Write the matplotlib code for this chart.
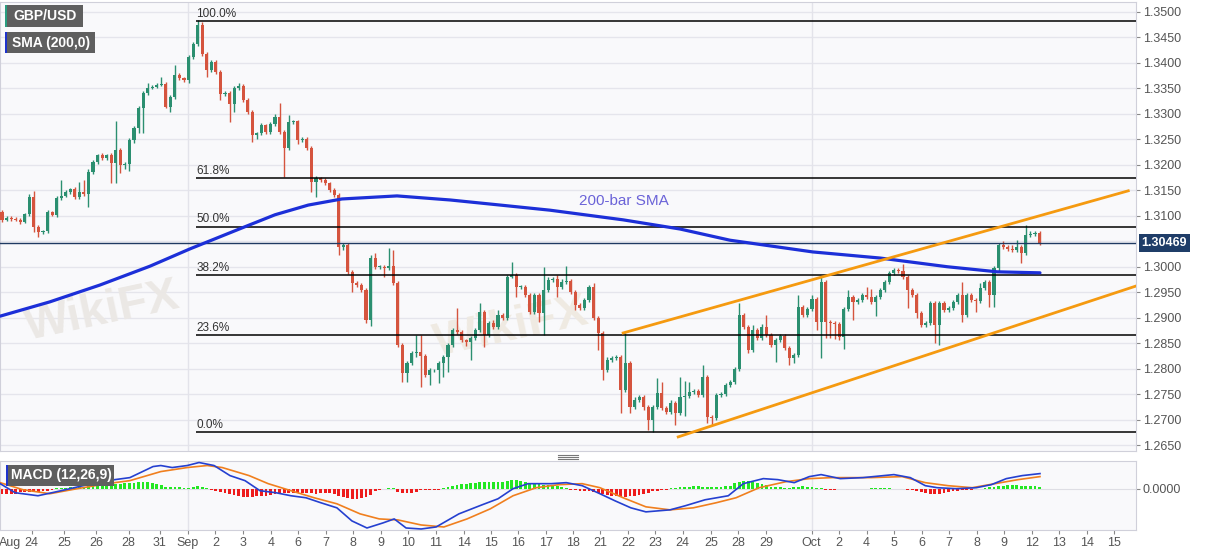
import numpy as np
import matplotlib.pyplot as plt
from matplotlib.patches import Rectangle
from matplotlib.lines import Line2D

plt.rcParams['font.family'] = ['Liberation Sans', 'DejaVu Sans']

# 4h candles GBP/USD, Aug 24 - Oct 12
first_open = 1.3107
closes = [
    1.3092, 1.3096, 1.3094, 1.3092, 1.3088, 1.3103, 1.3137, 1.3078, 1.3068, 1.3070,
    1.3107, 1.3102, 1.3135, 1.3139, 1.3147, 1.3153, 1.3137, 1.3147, 1.3143, 1.3186,
    1.3206, 1.3219, 1.3213, 1.3219, 1.3204, 1.3229, 1.3200, 1.3202, 1.3249, 1.3272,
    1.3312, 1.3341, 1.3351, 1.3353, 1.3357, 1.3359, 1.3314, 1.3333, 1.3376, 1.3370,
    1.3367, 1.3412, 1.3437, 1.3474, 1.3418, 1.3386, 1.3402, 1.3382, 1.3339, 1.3341,
    1.3319, 1.3351, 1.3355, 1.3327, 1.3304, 1.3259, 1.3262, 1.3278, 1.3264, 1.3280,
    1.3294, 1.3264, 1.3233, 1.3284, 1.3286, 1.3249, 1.3251, 1.3233, 1.3166, 1.3174,
    1.3170, 1.3164, 1.3151, 1.3141, 1.3039, 1.3043, 1.2990, 1.2968, 1.2964, 1.2954,
    1.2895, 1.3017, 1.3000, 1.3000, 1.2997, 1.3001, 1.2968, 1.2846, 1.2791, 1.2811,
    1.2831, 1.2833, 1.2825, 1.2787, 1.2797, 1.2797, 1.2811, 1.2823, 1.2846, 1.2876,
    1.2872, 1.2856, 1.2852, 1.2860, 1.2876, 1.2911, 1.2866, 1.2889, 1.2882, 1.2905,
    1.2899, 1.2980, 1.2984, 1.2960, 1.2960, 1.2944, 1.2911, 1.2944, 1.2909, 1.2954,
    1.2974, 1.2976, 1.2960, 1.2970, 1.2972, 1.2950, 1.2925, 1.2919, 1.2935, 1.2960,
    1.2899, 1.2870, 1.2797, 1.2817, 1.2821, 1.2823, 1.2758, 1.2811, 1.2725, 1.2738,
    1.2744, 1.2725, 1.2699, 1.2725, 1.2752, 1.2723, 1.2715, 1.2732, 1.2713, 1.2744,
    1.2746, 1.2754, 1.2756, 1.2748, 1.2784, 1.2705, 1.2703, 1.2748, 1.2750, 1.2768,
    1.2774, 1.2799, 1.2905, 1.2882, 1.2837, 1.2876, 1.2860, 1.2882, 1.2866, 1.2846,
    1.2856, 1.2864, 1.2840, 1.2821, 1.2827, 1.2921, 1.2905, 1.2917, 1.2937, 1.2891,
    1.2970, 1.2891, 1.2889, 1.2887, 1.2862, 1.2917, 1.2941, 1.2931, 1.2935, 1.2944,
    1.2941, 1.2931, 1.2941, 1.2954, 1.2970, 1.2988, 1.2994, 1.2992, 1.2980, 1.2954,
    1.2944, 1.2909, 1.2886, 1.2889, 1.2929, 1.2886, 1.2929, 1.2915, 1.2919, 1.2931,
    1.2944, 1.2905, 1.2944, 1.2935, 1.2933, 1.2958, 1.2970, 1.2944, 1.2997, 1.3043,
    1.3039, 1.3035, 1.3033, 1.3039, 1.3027, 1.3062, 1.3064, 1.3066, 1.30469,
]
# wick lengths above / below the body, in pips
upper_wick = [
    4, 3, 3, 3, 4, 3, 6, 12, 4, 3,
    4, 3, 4, 31, 4, 2, 4, 20, 24, 5,
    4, 3, 4, 3, 4, 57, 4, 3, 3, 4,
    4, 3, 10, 4, 3, 14, 3, 4, 20, 4,
    3, 4, 4, 10, 6, 4, 3, 4, 4, 4,
    4, 4, 6, 3, 4, 4, 3, 4, 3, 4,
    6, 27, 4, 14, 2, 2, 4, 4, 4, 4,
    3, 4, 3, 4, 4, 4, 4, 3, 3, 4,
    4, 6, 10, 4, 3, 36, 32, 4, 4, 4,
    4, 33, 33, 4, 4, 3, 4, 4, 4, 4,
    43, 4, 3, 4, 4, 18, 4, 4, 6, 10,
    4, 4, 25, 4, 4, 4, 4, 4, 4, 46,
    6, 4, 8, 6, 29, 4, 4, 4, 4, 4,
    8, 4, 4, 6, 4, 4, 4, 59, 4, 6,
    4, 4, 4, 4, 30, 22, 4, 6, 4, 40,
    30, 20, 4, 4, 23, 4, 4, 4, 4, 4,
    4, 4, 24, 4, 4, 10, 4, 6, 24, 4,
    4, 4, 4, 4, 4, 24, 4, 4, 8, 4,
    10, 4, 4, 4, 4, 4, 14, 4, 4, 4,
    16, 16, 4, 4, 4, 4, 4, 4, 13, 4,
    4, 4, 4, 4, 4, 4, 4, 4, 4, 4,
    4, 26, 4, 4, 4, 10, 4, 4, 4, 4,
    8, 4, 8, 14, 4, 20, 6, 5, 5,
]
lower_wick = [
    4, 3, 4, 3, 4, 3, 4, 10, 10, 4,
    4, 3, 4, 4, 3, 4, 4, 4, 4, 25,
    4, 4, 3, 4, 39, 39, 16, 8, 14, 6,
    10, 49, 4, 3, 3, 3, 2, 10, 4, 4,
    4, 6, 4, 4, 4, 14, 4, 4, 12, 4,
    35, 16, 4, 4, 4, 14, 8, 4, 4, 4,
    4, 4, 57, 4, 4, 8, 4, 4, 20, 30,
    4, 4, 4, 4, 16, 6, 4, 18, 4, 4,
    6, 12, 4, 4, 18, 4, 4, 4, 17, 18,
    4, 8, 61, 4, 20, 4, 26, 28, 30, 4,
    4, 4, 8, 36, 4, 4, 24, 4, 4, 4,
    4, 4, 2, 20, 4, 4, 4, 4, 18, 43,
    4, 4, 20, 4, 4, 4, 10, 4, 4, 4,
    4, 33, 20, 4, 4, 4, 45, 4, 12, 4,
    4, 6, 20, 23, 4, 4, 4, 4, 24, 4,
    37, 4, 4, 4, 4, 12, 14, 4, 4, 4,
    4, 4, 4, 4, 6, 4, 4, 4, 4, 4,
    33, 4, 4, 14, 10, 4, 4, 4, 4, 16,
    70, 31, 28, 28, 6, 23, 4, 36, 4, 4,
    4, 4, 28, 4, 4, 4, 4, 4, 4, 36,
    4, 10, 4, 4, 4, 36, 40, 4, 4, 4,
    4, 14, 4, 4, 22, 4, 4, 24, 24, 6,
    4, 4, 4, 4, 20, 4, 4, 4, 4,
]

# MACD histogram per candle (0.0001 units)
hist = [
    -5, -5, -5, -5, -3, -3, -3, -3, -3, -2, -2, -1,
    1, 1, 1, 2, 2, 2, 2, 3, 3, 3, 4, 4, 5,
    5, 5, 6, 6, 6, 7, 7, 7, 6, 5, 4,
    2, 2, 2, 2, 1, 1, 2, 3, 2, 1,
    -1,
    -2, -3, -4, -5, -6, -7, -8, -8, -8, -7, -7, -7, -6, -5,
    -4, -4, -4, -4, -4, -4, -4, -4, -5, -4, -4, -4, -5,
    -7, -8, -9, -10, -10, -9, -8, -6,
    -2, -1, 0,
    1, 1,
    -3, -4, -4, -4, -3,
    -1, -1, -1, -1, -1,
    1, 2, 3, 4, 5, 5, 6, 6, 7, 7, 7, 7, 7, 7, 8, 9, 9,
    8, 7, 6, 5, 5, 4, 4, 3, 3, 2, 1,
    -1, -1, -2, -2, -2,
    -3, -4, -5,
    -6, -7, -7, -8, -8, -7, -7, -6, -5, -4,
    -2, -2, -1, -1,
    1, 1, 2, 2, 2, 3, 3, 2, 2, 2, 2, 2, 3, 3,
    6, 7, 8, 8, 7, 6, 5, 4,
    2, 2, 2, 1,
    1, 2, 2, 3, 2, 2, 1, 1,
    -1, -1, -1, 0,
    0, 0, 0, 0, 0, 0, 1, 1, 1, 1, 1, 0, 0, 0, -1, -1,
    -2, -3, -4, -5, -5, -5, -4, -3, -2, -2,
    -1, -1, -1, 0, 0,
    1, 2, 2, 3, 3, 4, 4, 4, 3, 3, 3, 3, 2,
]

# MACD / signal lines (candle index, value in 0.0001)
macd_x = [-0.4, 2.9, 7.9, 13.0, 20.7, 24.8, 28.1, 33.2, 34.9, 37.4, 40.7, 43.3, 46.6,
          50.1, 53.4, 56.7, 60.2, 63.5, 66.8, 70.1, 73.6, 76.9, 80.2, 83.7, 86.2, 88.8,
          92.1, 95.4, 100.4, 105.5, 109.0, 112.3, 115.6, 120.7, 124.0, 127.5, 131.4,
          134.7, 138.2, 141.5, 146.8, 150.1, 154.5, 159.6, 162.9, 167.3, 170.5, 174.1,
          177.4, 180.0, 184.2, 189.2, 196.0, 199.6, 202.9, 205.5, 209.7, 214.1, 217.4,
          220.7, 224.2, 228.1]
macd_v = [5, -4, -7, -2, 6, 9, 11, 22, 23, 21, 23, 26, 23,
          13, 8, -2, -4, -7, -9, -14, -19, -32, -39, -34, -30, -39,
          -40, -38, -25, -16, -10, 0, 5, 5, 6, 3, -5,
          -12, -19, -23, -21, -17, -11, -7, 5, 10, 9, 6,
          12, 14, 10, 11, 14, 11, 3, 1, 0, 1, 4,
          10, 13, 15]
signal_x = [-0.4, 4.6, 10.5, 16.5, 23.1, 28.1, 34.9, 40.7, 45.1, 48.4, 54.3, 58.5, 63.5,
            68.6, 73.6, 78.7, 82.9, 87.0, 92.1, 97.1, 102.2, 107.3, 112.3, 117.4, 122.4,
            127.5, 131.4, 136.5, 141.5, 146.8, 151.9, 156.9, 161.3, 166.4, 172.3, 177.4,
            182.4, 191.0, 197.8, 202.9, 207.9, 213.2, 218.2, 223.3, 228.1]
signal_v = [6, -1, -5, 0, 5, 8, 17, 21, 23, 21, 13, 5, -2,
            -9, -15, -25, -30, -31, -36, -38, -30, -20, -7, 1, 4,
            5, 1, -9, -18, -21, -19, -14, -9, 1, 7, 10,
            11, 11, 12, 6, 3, 1, 5, 9, 12]

# 200-bar SMA
sma_x = [-0.4, 10.5, 21.5, 32.5, 41.3, 52.7, 60.0, 67.3, 74.7, 86.8, 98.5, 109.5,
         120.4, 136.5, 149.0, 160.0, 178.2, 193.0, 207.7, 218.7, 228.1]
sma_v = [1.2903, 1.2931, 1.2964, 1.3001, 1.3035, 1.3076, 1.3102, 1.3121, 1.3133, 1.3139,
         1.3131, 1.3121, 1.3111, 1.3092, 1.3074, 1.3052, 1.3029, 1.3017, 1.3000, 1.2990,
         1.2988]

fib_high = 1.3482
fib_low = 1.2675
fib_ratios = [1.0, 0.618, 0.5, 0.382, 0.236, 0.0]
fib_labels = ["100.0%", "61.8%", "50.0%", "38.2%", "23.6%", "0.0%"]
fib_start = 42.7

upper_x = [136.5, 247.5]
upper_y = [1.2870, 1.3149]
lower_x = [148.6, 249.5]
lower_y = [1.2666, 1.2963]

last_price = 1.30469

tick_pos = [6.5, 13.7, 20.7, 27.8, 34.7, 40.8, 46.9, 53.0, 59.1, 65.1, 71.1, 77.1, 83.2,
            89.2, 95.4, 101.5, 107.5, 113.5, 119.6, 125.5, 131.4, 137.6, 143.6, 149.6,
            155.8, 161.8, 167.9, 177.9, 184.0, 190.0, 196.1, 202.1, 208.1, 214.2, 220.2,
            226.3, 232.3, 238.4, 244.4]
tick_labels = ['24', '25', '26', '28', '31', 'Sep', '2', '3', '4', '6', '7', '8', '9',
               '10', '11', '14', '15', '16', '17', '18', '21', '22', '23', '24',
               '25', '28', '29', 'Oct', '2', '4', '5', '6', '7', '8', '9',
               '12', '13', '14', '15']
price_ticks = [1.3500, 1.3450, 1.3400, 1.3350, 1.3300, 1.3250, 1.3200, 1.3150, 1.3100,
               1.3000, 1.2950, 1.2900, 1.2850, 1.2800, 1.2750, 1.2700, 1.2650]

W, H = 1207, 555
GREEN = '#2b8f70'
RED = '#d5543e'
BG = '#f9f9fb'
XLIM = (-0.44, 249.2)

fig = plt.figure(figsize=(W / 100, H / 100), dpi=100)
ax = fig.add_axes([0, 1 - 451 / H, 1136 / W, 449 / H])
ax2 = fig.add_axes([0, 1 - 530 / H, 1136 / W, 69 / H])

closes = np.array(closes)
opens = np.concatenate([[first_open], closes[:-1]])
x = np.arange(len(closes))
top = np.maximum(opens, closes)
bot = np.minimum(opens, closes)
highs = top + np.array(upper_wick) * 0.0001
lows = bot - np.array(lower_wick) * 0.0001
up = closes >= opens
cols = np.where(up, GREEN, RED)

ax.set_facecolor(BG)
for side in ax.spines.values():
    side.set_color('#d0d0da')
ax.vlines(x, lows, highs, color=cols, lw=1, zorder=3)
ax.bar(x, np.maximum(top - bot, 0.00012), bottom=bot, width=0.68, color=cols, zorder=4)

# fibonacci retracement
for r, lab in zip(fib_ratios, fib_labels):
    lvl = fib_low + r * (fib_high - fib_low)
    ax.hlines(lvl, fib_start, XLIM[1], color='black', lw=1.1, zorder=5)
    ax.annotate(lab, (fib_start, lvl), xytext=(0, 1), textcoords='offset points',
                fontsize=8.5, color='#333333', va='bottom', ha='left', zorder=6)

ax.plot(sma_x, sma_v, color='#1c2fd8', lw=2.3, zorder=6, solid_capstyle='round')
ax.text(136.7, 1.3129, '200-bar SMA', ha='center', va='center', color='#6b63d8', fontsize=11)

ax.plot(upper_x, upper_y, color='#f59a10', lw=2, zorder=6)
ax.plot(lower_x, lower_y, color='#f59a10', lw=2, zorder=6)

ax.axhline(last_price, color='#1f3a62', lw=1, zorder=5)

# faint watermark
ax.text(22, 1.2912, 'WikiFX', fontsize=34, fontweight='bold', color='#ebe8e5',
        rotation=12, ha='center', va='center', zorder=1)
ax.text(112, 1.2880, 'WikiFX', fontsize=34, fontweight='bold', color='#efeae2',
        rotation=12, ha='center', va='center', zorder=1)

ax.set_xlim(*XLIM)
ax.set_ylim(1.26383, 1.35196)
ax.set_xticks([])
ax.yaxis.tick_right()
ax.set_yticks(price_ticks)
ax.yaxis.set_major_formatter(plt.FormatStrFormatter('%.4f'))
ax.tick_params(axis='y', length=3, width=0.8, color='#888888', labelcolor='#555555',
               labelsize=9, pad=2)
for lvl in price_ticks + [1.3050]:
    ax.axhline(lvl, color='#e5e5ec', lw=1, zorder=0)
ax.axvline(tick_pos[5], color='#e3e3ea', lw=1, zorder=0)
ax.axvline(tick_pos[27], color='#e3e3ea', lw=1, zorder=0)

ax.annotate(f'{last_price:.5f}', xy=(1.0, last_price), xycoords=('axes fraction', 'data'),
            xytext=(4, 0), textcoords='offset points', ha='left', va='center',
            color='white', fontsize=9, fontweight='bold',
            bbox=dict(boxstyle='square,pad=0.22', fc='#1f3d68', ec='none'))

# MACD panel
ax2.set_facecolor(BG)
for side in ax2.spines.values():
    side.set_color('#d0d0da')
hv = np.array(hist) * 0.0001
ax2.bar(x, hv, width=0.62, color=np.where(hv >= 0, '#22e722', '#ee1c1c'), zorder=3)
ax2.axhline(0, color='#dedee4', lw=0.8, zorder=1)
ax2.plot(signal_x, np.array(signal_v) * 0.0001, color='#f07f1e', lw=1.2, zorder=4)
ax2.plot(macd_x, np.array(macd_v) * 0.0001, color='#2540d0', lw=1.2, zorder=5)
ax2.axvline(tick_pos[5], color='#e3e3ea', lw=1, zorder=0)
ax2.axvline(tick_pos[27], color='#e3e3ea', lw=1, zorder=0)
ax2.set_xlim(*XLIM)
ax2.set_ylim(-0.0041, 0.00275)
ax2.yaxis.tick_right()
ax2.set_yticks([0.0])
ax2.set_yticklabels(['0.0000'])
ax2.tick_params(axis='y', length=3, width=0.8, color='#888888', labelcolor='#555555',
                labelsize=9, pad=2)
ax2.set_xticks(tick_pos)
ax2.set_xticklabels(tick_labels)
ax2.tick_params(axis='x', length=3, width=0.8, color='#888888', labelcolor='#555555',
                labelsize=9, pad=2)
ax2.annotate('Aug', xy=(1.8, 0), xycoords=ax2.get_xaxis_transform(), xytext=(0, -5),
             textcoords='offset points', ha='center', va='top', color='#555555', fontsize=9)


def label_box(x0, y0, w, h, text, stripe):
    fig.add_artist(Rectangle((x0 / W, 1 - (y0 + h) / H), w / W, h / H,
                             transform=fig.transFigure, facecolor='#5f5f5f',
                             edgecolor='none', zorder=10))
    fig.add_artist(Rectangle((x0 / W, 1 - (y0 + h) / H), 2 / W, h / H,
                             transform=fig.transFigure, facecolor=stripe,
                             edgecolor='none', zorder=11))
    fig.text((x0 + w / 2 + 1) / W, 1 - (y0 + h / 2) / H, text, color='white',
             fontsize=10, fontweight='bold', ha='center', va='center', zorder=12)


label_box(5, 5, 78, 22, 'GBP/USD', '#2a9d80')
label_box(5, 32, 90, 21, 'SMA (200,0)', '#1f33cc')
label_box(6, 465, 108, 21, 'MACD (12,26,9)', '#1f33cc')

# panel resize handle
for dy in (454.5, 456.5, 458.5):
    fig.add_artist(Line2D([558 / W, 578 / W], [1 - dy / H, 1 - dy / H],
                          transform=fig.transFigure, color='#777777', lw=0.8))

fig.savefig('out.png', dpi=100, facecolor='white')
